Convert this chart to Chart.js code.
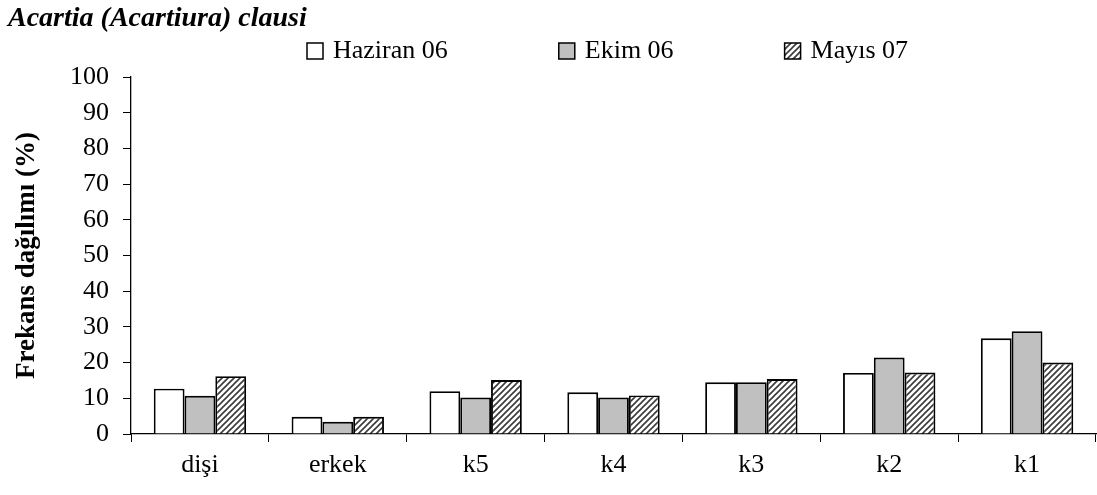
<!DOCTYPE html>
<html>
<head>
<meta charset="utf-8">
<script src="https://cdn.jsdelivr.net/npm/chart.js@4.4.0/dist/chart.umd.min.js"></script>
<style>
  html, body { margin: 0; padding: 0; background: #ffffff; }
  #wrap { width: 1097px; height: 495px; position: relative; }
  .probe { font-family: "Liberation Serif"; position: absolute; left: -9999px; }
</style>
</head>
<body>
<span class="probe">a</span><span class="probe" style="font-weight:bold">a</span><span class="probe" style="font-weight:bold;font-style:italic">a</span>
<div id="wrap"><canvas id="c" width="1097" height="495"></canvas></div>
<script>
const chartTitle = 'Acartia (Acartiura) clausi';
const yAxisTitle = 'Frekans dağılımı (%)';
const categories = ['dişi', 'erkek', 'k5', 'k4', 'k3', 'k2', 'k1'];
const seriesNames = ['Haziran 06', 'Ekim 06', 'Mayıs 07'];
const haziran06 = [12.7, 4.8, 12.0, 11.7, 14.5, 17.1, 26.8];
const ekim06 = [10.7, 3.4, 10.2, 10.2, 14.5, 21.4, 28.8];
const mayis07 = [16.2, 4.8, 15.1, 10.8, 15.4, 17.2, 20.0];
const yTicks = [0, 10, 20, 30, 40, 50, 60, 70, 80, 90, 100];

const FONT = '"Liberation Serif", "Times New Roman", Times, serif';

function hatchPattern() {
  const s = 6;
  const pc = document.createElement('canvas');
  pc.width = s; pc.height = s;
  const g = pc.getContext('2d');
  g.fillStyle = '#ffffff';
  g.fillRect(0, 0, s, s);
  g.strokeStyle = '#3a3a3a';
  g.lineWidth = 1.6;
  g.beginPath();
  g.moveTo(-1, s + 1); g.lineTo(s + 1, -1);
  g.moveTo(-1, 1); g.lineTo(1, -1);
  g.moveTo(s - 1, s + 1); g.lineTo(s + 1, s - 1);
  g.stroke();
  return document.getElementById('c').getContext('2d').createPattern(pc, 'repeat');
}
const seriesData = [haziran06, ekim06, mayis07];

const headerPlugin = {
  id: 'header',
  afterDraw(chart) {
    const ctx = chart.ctx;
    ctx.save();
    ctx.fillStyle = '#000';
    ctx.textBaseline = 'middle';
    ctx.textAlign = 'left';
    ctx.font = 'italic bold 28px ' + FONT;
    ctx.fillText(chartTitle, 8, 19);
    ctx.font = '26px ' + FONT;
    let x = 307;
    const yc = 51;
    chart.data.datasets.forEach((ds) => {
      ctx.fillStyle = ds.backgroundColor;
      ctx.fillRect(x, yc - 8, 16, 16);
      ctx.strokeStyle = '#000';
      ctx.lineWidth = 1.5;
      ctx.strokeRect(x, yc - 8, 16, 16);
      ctx.fillStyle = '#000';
      ctx.fillText(ds.label, x + 26, yc);
      x += 26 + ctx.measureText(ds.label).width + 111;
    });
    ctx.restore();
  }
};

function build() {
  const hatch = hatchPattern();
  const fills = ['#ffffff', '#c0c0c0', hatch];
  new Chart(document.getElementById('c'), {
    type: 'bar',
    data: {
      labels: categories,
      datasets: seriesNames.map((name, i) => ({
        label: name,
        data: seriesData[i],
        backgroundColor: fills[i],
        borderColor: '#000000',
        borderWidth: 1.9,
        borderSkipped: 'bottom',
        categoryPercentage: 0.67,
        barPercentage: 1.0
      }))
    },
    options: {
      responsive: false,
      animation: false,
      devicePixelRatio: 1,
      layout: { padding: { top: 77, right: 1, left: 0, bottom: 0 } },
      plugins: {
        legend: { display: false },
        title: { display: false },
        tooltip: { enabled: false }
      },
      scales: {
        x: {
          afterFit(scale) { scale.height = 61; },
          grid: { display: true, drawOnChartArea: false, drawTicks: true, tickLength: 8, color: '#000', lineWidth: 1, offset: true },
          border: { display: true, color: '#000', width: 1.3 },
          ticks: { color: '#000', font: { family: FONT, size: 26 }, padding: 8, maxRotation: 0 }
        },
        y: {
          min: 0, max: 100,
          afterFit(scale) { scale.width = 131; },
          afterBuildTicks(scale) { scale.ticks = yTicks.map(v => ({ value: v })); },
          grid: { display: true, drawOnChartArea: false, drawTicks: true, tickLength: 8, color: '#000', lineWidth: 1 },
          border: { display: true, color: '#000', width: 1.3 },
          ticks: { color: '#000', font: { family: FONT, size: 26 }, padding: 14 },
          title: { display: true, text: yAxisTitle, color: '#000', font: { family: FONT, size: 27, weight: 'bold' }, padding: { top: 11, bottom: 0 } }
        }
      }
    },
    plugins: [headerPlugin]
  });
}

const loads = [
  '26px "Liberation Serif"',
  'bold 26px "Liberation Serif"',
  'italic bold 26px "Liberation Serif"'
].map(f => document.fonts.load(f).catch(() => null));
Promise.all(loads).then(build, build);
</script>
</body>
</html>
